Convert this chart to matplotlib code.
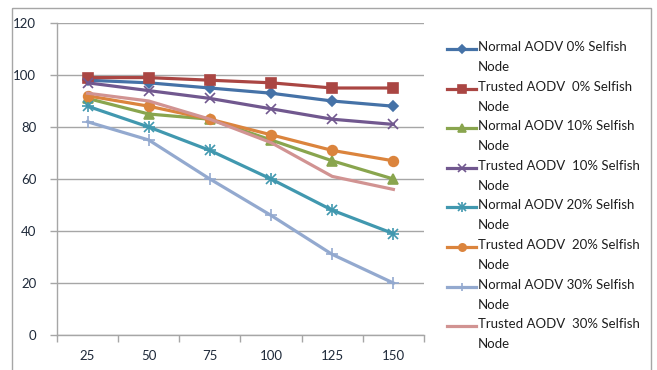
import matplotlib.pyplot as plt
from matplotlib.patches import Rectangle

plt.switch_backend('agg')

# Data
nodes = ['25', '50', '75', '100', '125', '150']

normal_0 = [98, 97, 95, 93, 90, 88]
trusted_0 = [99, 99, 98, 97, 95, 95]
normal_10 = [91, 85, 83, 75, 67, 60]
trusted_10 = [97, 94, 91, 87, 83, 81]
normal_20 = [88, 80, 71, 60, 48, 39]
trusted_20 = [92, 88, 83, 77, 71, 67]
normal_30 = [82, 75, 60, 46, 31, 20]
trusted_30 = [93, 90, 83, 74, 61, 56]

series = [
    ('Normal AODV 0% Selfish\nNode', normal_0, '#4572A7', 'D', 5),
    ('Trusted AODV  0% Selfish\nNode', trusted_0, '#AA4643', 's', 7),
    ('Normal AODV 10% Selfish\nNode', normal_10, '#89A54E', '^', 7),
    ('Trusted AODV  10% Selfish\nNode', trusted_10, '#71588F', 'x', 7),
    ('Normal AODV 20% Selfish\nNode', normal_20, '#4198AF', '*', 0),
    ('Trusted AODV  20% Selfish\nNode', trusted_20, '#DB843D', 'o', 7),
    ('Normal AODV 30% Selfish\nNode', normal_30, '#93A9CF', '+', 8),
    ('Trusted AODV  30% Selfish\nNode', trusted_30, '#D19392', None, 0),
]

plt.rcParams['font.family'] = ['Lato', 'DejaVu Sans']
grey = '#a6a6a6'
W, H = 657, 370

fig = plt.figure(figsize=(6.57, 3.70), dpi=100)
ax = fig.add_axes([0.0868, 0.0946, 0.5585, 0.8432])


def draw(target, xs, vals, color, marker, ms, markevery=None, scale=1.0):
    if marker == '*':
        # Excel's star marker: x and + on top of each other
        target.plot(xs, vals, color=color, lw=2.3)
        target.plot(xs, vals, color=color, lw=0, marker='x', ms=7 * scale,
                    mew=1.2, markevery=markevery)
        target.plot(xs, vals, color=color, lw=0, marker='+', ms=9 * scale,
                    mew=1.2, markevery=markevery)
    elif marker is None:
        target.plot(xs, vals, color=color, lw=2.3)
    else:
        target.plot(xs, vals, color=color, lw=2.3, marker=marker,
                    ms=ms * scale, mew=1.2, markevery=markevery)


x = list(range(len(nodes)))
for label, vals, color, marker, ms in series:
    draw(ax, x, vals, color, marker, ms)

ax.set_xlim(-0.5, len(nodes) - 0.5)
ax.set_ylim(0, 120)
ax.set_yticks(range(0, 121, 20))
ax.set_xticks(x)
ax.set_xticklabels(nodes)
ax.set_xticks([i - 0.5 for i in range(len(nodes) + 1)], minor=True)
ax.tick_params(axis='x', which='major', length=0, pad=11, labelsize=9.5,
               labelcolor='#1f2a3a')
ax.tick_params(axis='x', which='minor', length=5, color=grey, width=1)
ax.tick_params(axis='y', length=5, color=grey, width=1, pad=10,
               labelsize=9.5, labelcolor='#1f2a3a')
ax.yaxis.grid(True, color=grey, lw=1)
ax.set_axisbelow(True)
for side in ['top', 'right']:
    ax.spines[side].set_visible(False)
for side in ['left', 'bottom']:
    ax.spines[side].set_color(grey)
    ax.spines[side].set_linewidth(1)

# overlay in pixel coords for the legend and the outer frame
lax = fig.add_axes([0, 0, 1, 1])
lax.set_xlim(0, W)
lax.set_ylim(H, 0)
lax.axis('off')

# legend, Excel style: handle next to the first line of each label
for i, (label, vals, color, marker, ms) in enumerate(series):
    yp = 49 + 39.6 * i
    draw(lax, [447, 461.5, 476], [yp, yp, yp], color, marker, ms,
         markevery=[1], scale=0.75)
    lax.text(478, yp - 8, label, fontsize=9.5, color='#1f1f1f',
             va='top', ha='left', linespacing=1.8)

lax.add_patch(Rectangle((12, 8), 651 - 12, 380, fill=False,
                        edgecolor=grey, lw=1))

fig.savefig('out.png', dpi=100)
plt.close(fig)
